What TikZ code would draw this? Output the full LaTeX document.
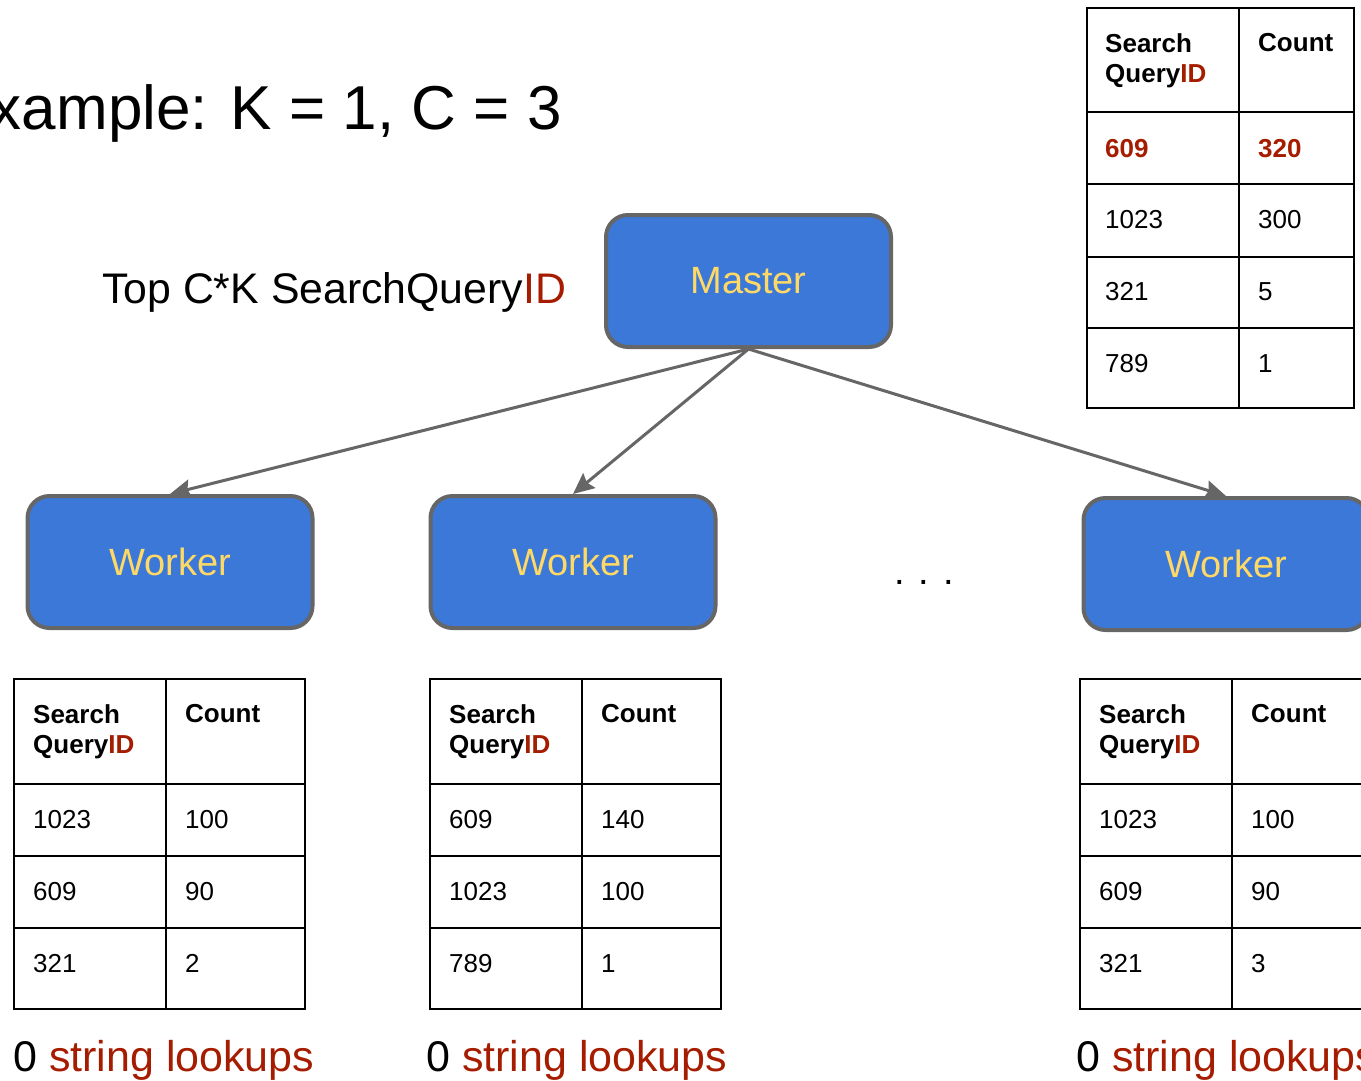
\documentclass[tikz,border=0pt]{standalone}
\usepackage{fontspec}
\setmainfont{Liberation Sans}
\usepackage{xcolor}
\usetikzlibrary{arrows.meta}

\definecolor{boxblue}{HTML}{3C78D8}
\definecolor{edgegray}{HTML}{666666}
\definecolor{labelyellow}{HTML}{FFD966}
\definecolor{idred}{HTML}{A61C00}

\begin{document}
\begin{tikzpicture}[
  x=1pt, y=-1pt,
  >={Stealth[length=21pt, width=19pt, inset=3pt]},
  proc/.style={draw=edgegray, line width=4pt, fill=boxblue, rounded corners=22pt,
               minimum width=285pt, minimum height=132pt, text=labelyellow,
               font=\fontsize{38}{44}\selectfont},
  link/.style={->, draw=edgegray, line width=3pt},
  grid/.style={line width=2pt},
  hdr/.style={inner sep=0pt, anchor=north west, align=left,
              font=\bfseries\fontsize{26}{30}\selectfont},
  val/.style={inner sep=0pt, anchor=base west, font=\fontsize{26}{30}\selectfont},
  big/.style={inner sep=0pt, font=\fontsize{43}{50}\selectfont},
]
\useasboundingbox (0,0) rectangle (1361,1080);
\clip (0,0) rectangle (1361,1080);

% titles
\node[inner sep=0pt, anchor=base east, font=\fontsize{62}{72}\selectfont]
  (title) at (562,129) {Example: K = 1, C = 3};
\node[inner sep=0pt, anchor=base west, font=\fontsize{42.8}{50}\selectfont]
  (topck) at (102,303) {Top C*K SearchQuery\textcolor{idred}{ID}};

% master and workers
\node[proc] (master) at (748.5,281) {Master};
\node[proc] (w1) at (170,562) {Worker};
\node[proc] (w2) at (573,562) {Worker};
\node[proc] (w3) at (1226,564) {Worker};
\node[inner sep=0pt, anchor=base, font=\fontsize{38}{44}\selectfont] (dots) at (924,584) {. . .};

\draw[link] (master.south) -- (w1.north);
\draw[link] (master.south) -- (w2.north);
\draw[link] (master.south) -- (w3.north);

% merged table
\draw[grid] (1087,8) rectangle (1354,408);
\draw[grid] (1239,8) -- (1239,408);
\foreach \y in {112,184,257,328} \draw[grid] (1087,\y) -- (1354,\y);
\node[hdr] (mq0) at (1105,33) {Search\\Query\textcolor{idred}{ID}};
\node[hdr] (mc0) at (1258,33) {Count};
\node[val, text=idred, font=\bfseries\fontsize{26}{30}\selectfont] (mq1) at (1105,157) {609};
\node[val, text=idred, font=\bfseries\fontsize{26}{30}\selectfont] (mc1) at (1258,157) {320};
\foreach \n/\y/\a/\b in {2/228/1023/300, 3/300/321/5, 4/372/789/1} {
  \node[val] (mq\n) at (1105,\y) {\a};
  \node[val] (mc\n) at (1258,\y) {\b};
}

% worker tables
\foreach \t/\x/\l in {1/14/13, 2/430/426, 3/1080/1076} {
  \draw[grid] (\x,679) rectangle (\x+291,1009);
  \draw[grid] (\x+152,679) -- (\x+152,1009);
  \foreach \y in {784,856,928} \draw[grid] (\x,\y) -- (\x+291,\y);
  \node[hdr] (q\t0) at (\x+19,704) {Search\\Query\textcolor{idred}{ID}};
  \node[hdr] (c\t0) at (\x+171,704) {Count};
  \node[big, anchor=base west] (lk\t) at (\l,1071) {0 \textcolor{idred}{string lookups}};
}
\foreach \n/\y/\a/\b in {1/828/1023/100, 2/900/609/90, 3/972/321/2} {
  \node[val] (q1\n) at (33,\y) {\a};
  \node[val] (c1\n) at (185,\y) {\b};
}
\foreach \n/\y/\a/\b in {1/828/609/140, 2/900/1023/100, 3/972/789/1} {
  \node[val] (q2\n) at (449,\y) {\a};
  \node[val] (c2\n) at (601,\y) {\b};
}
\foreach \n/\y/\a/\b in {1/828/1023/100, 2/900/609/90, 3/972/321/3} {
  \node[val] (q3\n) at (1099,\y) {\a};
  \node[val] (c3\n) at (1251,\y) {\b};
}
\end{tikzpicture}
\end{document}
